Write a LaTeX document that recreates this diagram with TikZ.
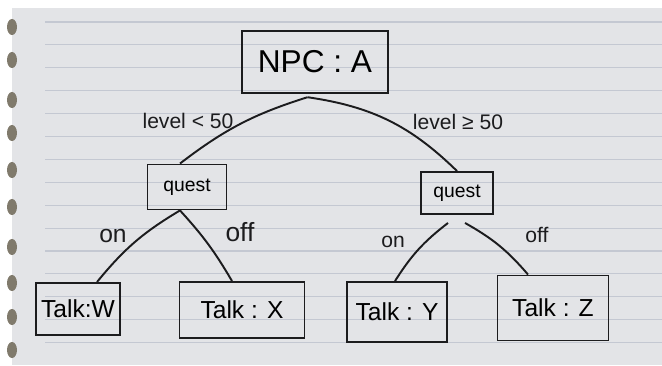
\documentclass[tikz,border=0pt]{standalone}
\usepackage{fontspec}
\setmainfont{Liberation Sans}
\usetikzlibrary{positioning}
\definecolor{paper}{RGB}{227,228,231}
\definecolor{ruling}{RGB}{196,200,210}
\definecolor{ink}{RGB}{28,28,30}
\definecolor{hole}{RGB}{128,122,108}
\begin{document}
\begin{tikzpicture}[
        x=0.02cm, y=0.02cm,
        npcbox/.style={rectangle, draw=ink, line width=1.1pt, minimum width=2.92cm, minimum height=1.25cm, inner sep=0pt, font=\fontsize{18}{18}\selectfont},
        questbox/.style={rectangle, draw=ink, line width=1.1pt, inner sep=0pt, font=\fontsize{11}{11}\selectfont},
        talkbox/.style={rectangle, draw=ink, line width=1.1pt, inner sep=0pt, font=\fontsize{14}{14}\selectfont},
        branch/.style={draw=ink, line width=1.1pt},
        cond/.style={font=\fontsize{12}{12}\selectfont, text=ink, inner sep=1pt}
    ]
        \useasboundingbox (0,0) rectangle (662,365);
        \fill[white] (0,0) rectangle (662,365);
        \fill[paper] (12,0) rectangle (662,357);
        \foreach \i in {0,...,14}
            \draw[ruling, line width=0.6pt] (45,{343-22.9*\i}) -- (662,{343-22.9*\i});
        \foreach \hy in {27,60,100,133,170,207,247,283,317,350}
            \fill[hole] (12,{365-\hy}) ellipse (5 and 8);
        \node[npcbox] (npc) at (315, 303) {NPC : A};
        \node[questbox, minimum width=1.58cm, minimum height=0.9cm] (questL) at (187, 178) {quest};
        \node[questbox, minimum width=1.44cm, minimum height=0.84cm] (questR) at (457, 172) {quest};
        \node[talkbox, minimum width=1.68cm, minimum height=1.04cm] (talkW) at (78, 56) {Talk:W};
        \node[talkbox, minimum width=2.5cm, minimum height=1.12cm] (talkX) at (242, 55) {Talk : X};
        \node[talkbox, minimum width=2cm, minimum height=1.2cm] (talkY) at (397, 53) {Talk : Y};
        \node[talkbox, minimum width=2.22cm, minimum height=1.3cm] (talkZ) at (553, 57) {Talk : Z};
        \draw[branch] ([xshift=-0.15cm, yshift=-0.06cm]npc.south) to[bend right=10] ([xshift=-0.14cm]questL.north);
        \draw[branch] ([xshift=-0.15cm, yshift=-0.06cm]npc.south) to[bend left=18] (questR.north);
        \draw[branch] ([xshift=-0.14cm]questL.south) to[bend right=10] ([xshift=0.38cm]talkW.north);
        \draw[branch] ([xshift=-0.14cm]questL.south) to[bend left=6] ([xshift=-0.2cm]talkX.north);
        \draw[branch] ([xshift=-0.18cm, yshift=-0.16cm]questR.south) to[bend right=10] ([xshift=-0.04cm]talkY.north);
        \draw[branch] ([xshift=0.16cm, yshift=-0.16cm]questR.south) to[bend left=10] ([xshift=-0.5cm]talkZ.north);
        \node[cond] (lvlL) at (188, 244) {level < 50};
        \node[cond] (lvlR) at (458, 243) {level ≥ 50};
        \node[cond, font=\fontsize{14}{14}\selectfont] (onL) at (113, 129) {on};
        \node[cond, font=\fontsize{15}{15}\selectfont] (offL) at (240, 133) {off};
        \node[cond] (onR) at (393, 123) {on};
        \node[cond] (offR) at (537, 130) {off};
    \end{tikzpicture}
\end{document}
